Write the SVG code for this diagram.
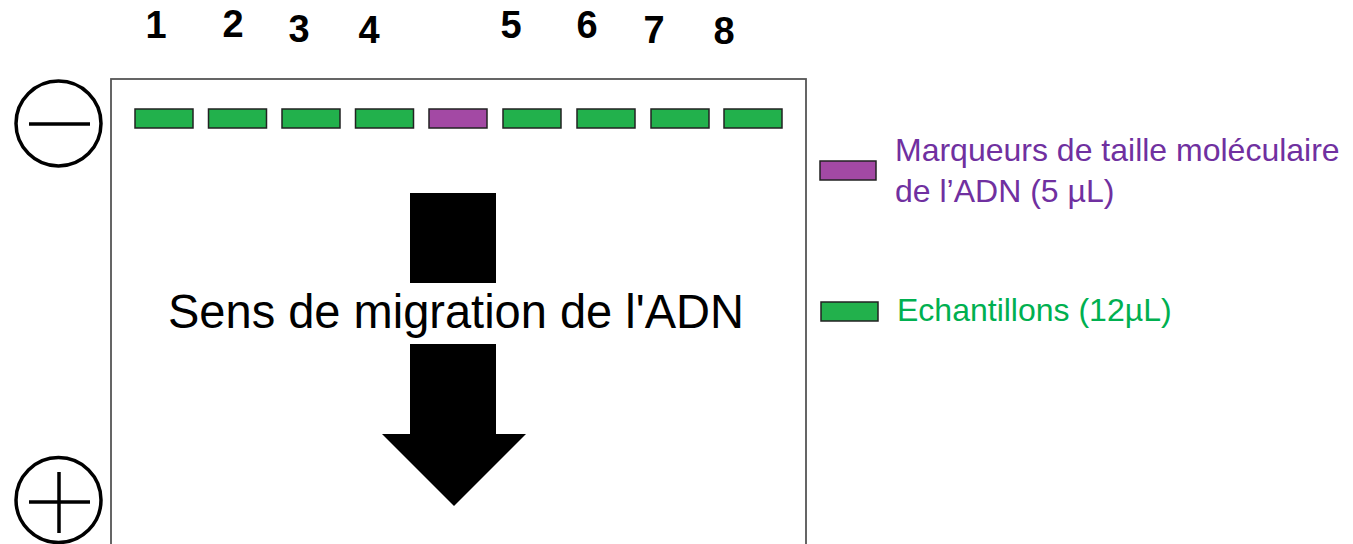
<svg xmlns="http://www.w3.org/2000/svg" width="1353" height="544" viewBox="0 0 1353 544">
<style>
.num{font-family:"Liberation Sans",Arial,sans-serif;font-weight:bold;font-size:38px;fill:#000;text-anchor:middle}
.well{stroke:#222;stroke-width:1.5}
.g{fill:#22b14c}
.p{fill:#a349a4}
.elec{fill:none;stroke:#000;stroke-width:3.5}
.leg{font-family:"Liberation Sans",Arial,sans-serif;font-size:32px}
</style>
<rect width="1353" height="544" fill="#fff"/>
<g id="gel">
<rect x="111" y="79" width="695" height="480" fill="#fff" stroke="#555" stroke-width="1.8"/>
</g>
<g id="numbers">
<text class="num" x="156" y="38">1</text>
<text class="num" x="233" y="37">2</text>
<text class="num" x="299" y="42">3</text>
<text class="num" x="369" y="43">4</text>
<text class="num" x="511" y="38">5</text>
<text class="num" x="587" y="38">6</text>
<text class="num" x="654" y="43">7</text>
<text class="num" x="724" y="44">8</text>
</g>
<g id="wells">
<rect class="well g" x="135" y="109" width="58" height="19"/>
<rect class="well g" x="208.5" y="109" width="58" height="19"/>
<rect class="well g" x="282" y="109" width="58" height="19"/>
<rect class="well g" x="355.5" y="109" width="58" height="19"/>
<rect class="well p" x="429" y="109" width="58" height="19"/>
<rect class="well g" x="503" y="109" width="58" height="19"/>
<rect class="well g" x="577" y="109" width="58" height="19"/>
<rect class="well g" x="651" y="109" width="58" height="19"/>
<rect class="well g" x="724" y="109" width="58" height="19"/>
</g>
<g id="minus">
<circle class="elec" cx="58.5" cy="123.5" r="42.5"/>
<line x1="29" y1="124" x2="90" y2="124" stroke="#000" stroke-width="3.5"/>
</g>
<g id="plus">
<circle class="elec" cx="58.5" cy="500" r="42.5"/>
<line x1="29" y1="502" x2="90" y2="502" stroke="#000" stroke-width="3.5"/>
<line x1="59" y1="472" x2="59" y2="533" stroke="#000" stroke-width="3.5"/>
</g>
<g id="arrow">
<rect x="410" y="193" width="86" height="90" fill="#000"/>
<polygon points="410,344 496,344 496,434 526,434 454,506 382,434 410,434" fill="#000"/>
<text x="168" y="328" font-family="'Liberation Sans',Arial,sans-serif" font-size="48" fill="#000" textLength="576" lengthAdjust="spacingAndGlyphs">Sens de migration de l'ADN</text>
</g>
<g id="legend-marker">
<rect class="well p" x="820" y="161" width="56" height="19"/>
<text class="leg" x="895" y="161" fill="#7030a0">Marqueurs de taille moléculaire</text>
<text class="leg" x="895" y="202" fill="#7030a0">de l’ADN (5 µL)</text>
</g>
<g id="legend-sample">
<rect class="well g" x="821" y="302" width="57" height="19"/>
<text class="leg" x="897" y="321" fill="#00b050">Echantillons (12µL)</text>
</g>
</svg>
